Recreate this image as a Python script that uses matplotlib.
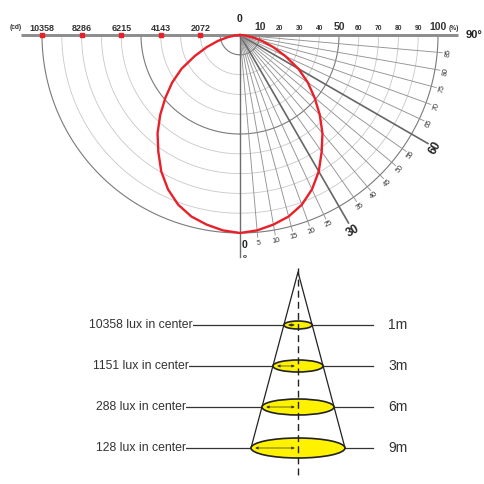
import numpy as np
import matplotlib.pyplot as plt
from matplotlib.patches import Ellipse

plt.rcParams['font.family'] = ['Liberation Sans', 'DejaVu Sans']

# luminous intensity (cd) against angle from the beam axis, symmetric beam
angles = [0, 5, 10, 15, 20, 25, 30, 35, 40, 45, 50, 55, 60, 65, 70, 75, 80, 85, 90]
intensity = [10358, 10260, 10070, 9830, 9450, 8910, 8240, 7450, 6710, 5900,
             5090, 4330, 3530, 2620, 1850, 1200, 650, 250, 0]

cd_ticks = [10358, 8286, 6215, 4143, 2072]
pct_ticks = [10, 20, 30, 40, 50, 60, 70, 80, 90, 100]
ray_angles = list(range(5, 90, 5))
major_angles = [30, 60]

distances = ['1m', '3m', '6m', '9m']
lux_center = [10358, 1151, 288, 128]

I_MAX = cd_ticks[0]
W, H = 485, 484
PX = I_MAX / 198.0          # cd per pixel on the polar chart
ox, oy = 240, 35            # pole position in pixels
top_h = 265

fig = plt.figure(figsize=(W / 100, H / 100), dpi=100)

### Polar intensity chart (data in cd, y up, pole at 0,0)
ax = fig.add_axes([0, 1 - top_h / H, 1, top_h / H])
ax.set_xlim(-ox * PX, (W - ox) * PX)
ax.set_ylim(-(top_h - oy) * PX, oy * PX)
ax.axis('off')

light, dark = '#c8c8c8', '#7a7a7a'

# concentric rings, every 10 %: left quadrant in cd, right quadrant in %
tl = np.linspace(np.pi, 1.5 * np.pi, 120)
tr = np.linspace(1.5 * np.pi, 2 * np.pi, 120)
for k in range(1, 11):
    r = k * I_MAX / 10
    emph = k in (1, 5, 10)
    c = dark if emph else light
    lw = 0.8 if emph else 0.6
    ax.plot(r * np.cos(tl), r * np.sin(tl), color=c, lw=lw, zorder=1)
    ax.plot(r * np.cos(tr), r * np.sin(tr), color=c, lw=lw, zorder=1)

# angle rays on the right quadrant
for a in ray_angles:
    s, c = np.sin(np.radians(a)), np.cos(np.radians(a))
    if a in major_angles:
        rend = I_MAX * 217 / 198
        ax.plot([0, rend * s], [0, -rend * c], color='#666666', lw=1.2, zorder=2)
        rl = I_MAX * 226 / 198
        ax.text(rl * s, -rl * c, str(a), rotation=a, ha='center', va='center',
                fontsize=8.5, fontweight='bold', color='#222222')
    else:
        rend = I_MAX * 203 / 198
        ax.plot([0, rend * s], [0, -rend * c], color='#939393', lw=0.65, zorder=2)
        rl = I_MAX * 209 / 198
        ax.text(rl * s, -rl * c, str(a), rotation=a, ha='center', va='center',
                fontsize=5.2, color='#333333')

# axes lines
ax.plot([-(ox - 21) * PX, (458 - ox) * PX], [0, 0], color='#8c8c8c', lw=2.1,
        solid_capstyle='butt', zorder=3)
ax.plot([0, 0], [0, -(257 - oy) * PX], color='#6e6e6e', lw=1.0, zorder=3)

# intensity scale on the left
ax.plot([-v for v in cd_ticks], [0] * len(cd_ticks), 's', color='#e8202a',
        ms=2.5, zorder=5)
for v in cd_ticks:
    ax.text(-v, 2 * PX, str(v), ha='center', va='bottom', fontsize=6.5,
            fontweight='bold', color='#333333')
ax.text(-(ox - 16) * PX, 4 * PX, '(cd)', ha='center', va='bottom', fontsize=4.8,
        fontweight='bold', color='#333333')

# relative scale on the right
for p in pct_ticks:
    big = p in (10, 50, 100)
    ax.text(p / 100 * I_MAX, 3 * PX, str(p), ha='center', va='bottom',
            fontsize=7.5 if big else 4.8, fontweight='bold', color='#333333')
ax.text((454 - ox) * PX, 3 * PX, '(%)', ha='center', va='bottom', fontsize=4.8,
        fontweight='bold', color='#333333')
ax.text(0, 11 * PX, '0', ha='center', va='bottom', fontsize=7.5,
        fontweight='bold', color='#222222')
ax.text((466 - ox) * PX, 0, '90°', ha='left', va='center', fontsize=8,
        fontweight='bold', color='#222222')
ax.text(2 * PX, -(245 - oy) * PX, '0', ha='left', va='center', fontsize=7.5,
        fontweight='bold', color='#222222')
ax.text(2.5 * PX, -(256 - oy) * PX, 'o', ha='left', va='center', fontsize=4.5,
        fontweight='bold', color='#222222')

# beam curve, mirrored about the axis
th = np.radians(np.concatenate([-np.array(angles[::-1]), np.array(angles[1:])]))
ii = np.concatenate([np.array(intensity[::-1]), np.array(intensity[1:])])
ax.plot(ii * np.sin(th), -ii * np.cos(th), color='#e8202a', lw=1.7, zorder=6,
        solid_joinstyle='round')

### Illuminance cone (pixel layout)
bot_top = 262
ax2 = fig.add_axes([0, 0, 1, (H - bot_top) / H])
ax2.set_xlim(0, W)
ax2.set_ylim(H, bot_top)
ax2.axis('off')

apex_x, apex_y = 298, 272
row0, gap = 325, 41
spread = 47 / 176.0
rows = [row0 + gap * i for i in range(len(distances))]

ax2.plot([apex_x, apex_x], [268, 476], color='#222222', lw=1.0,
         dashes=(5, 3), zorder=4)
last = rows[-1]
hw_last = (last - apex_y) * spread
ax2.plot([apex_x - hw_last, apex_x, apex_x + hw_last], [last, apex_y, last],
         color='#222222', lw=0.9, zorder=2)

for i, (d, lx, y) in enumerate(zip(distances, lux_center, rows)):
    hw = (y - apex_y) * spread
    eh = 8 + 4 * i
    ax2.plot([150, 373], [y, y], color='#333333', lw=0.9, zorder=1)
    ax2.add_patch(Ellipse((apex_x, y), 2 * hw, eh, facecolor='#fff200',
                          edgecolor='#222222', lw=1.2, zorder=3))
    ax2.annotate('', xy=(apex_x - hw + 1.5, y), xytext=(apex_x - 0.5, y),
                 arrowprops=dict(arrowstyle='<|-|>', color='#333333', lw=0.5,
                                 mutation_scale=4), zorder=5)
    ax2.text(141, y, f'{lx} lux in center', ha='center', va='center',
             fontsize=8.8, color='#333333',
             bbox=dict(facecolor='white', edgecolor='none', pad=0.2))
    ax2.text(388, y, d, ha='left', va='center', fontsize=10, color='#333333')

fig.savefig('out.png', dpi=100)
